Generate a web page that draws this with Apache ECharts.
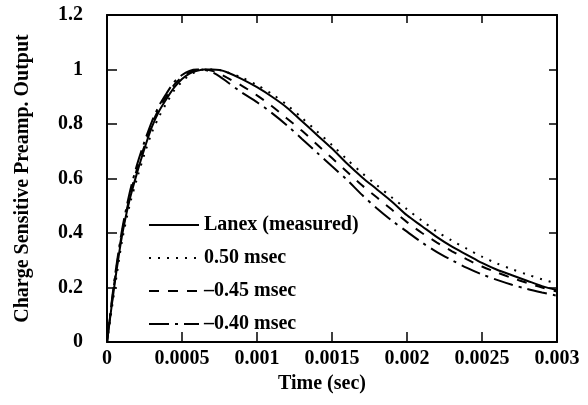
<!DOCTYPE html>
<html>
<head>
<meta charset="utf-8">
<script src="https://cdn.jsdelivr.net/npm/echarts@6/dist/echarts.min.js"></script>
<style>html,body{margin:0;padding:0;background:#fff;}#chart{width:588px;height:405px;}</style>
</head>
<body>
<div id="chart"></div>
<script>
// Time (sec)
var time = [0,0.00005,0.0001,0.00015,0.0002,0.00025,0.0003,0.00035,0.0004,0.00045,0.0005,0.00055,0.0006,0.00065,0.0007,0.00075,0.0008,0.0009,0.001,0.0011,0.0012,0.0013,0.0014,0.0015,0.0016,0.0017,0.0018,0.0019,0.002,0.0021,0.0022,0.0023,0.0024,0.0025,0.0026,0.0027,0.0028,0.0029,0.003];
var lanexMeasured = [0,0.21,0.39,0.52,0.62,0.71,0.79,0.85,0.895,0.935,0.965,0.985,0.995,1.0,1.0,0.998,0.99,0.965,0.935,0.90,0.86,0.81,0.76,0.71,0.655,0.605,0.56,0.515,0.465,0.425,0.385,0.35,0.32,0.29,0.265,0.245,0.225,0.205,0.19];
var sim050 = [0,0.19,0.37,0.50,0.60,0.69,0.77,0.83,0.88,0.925,0.955,0.98,0.993,1.0,1.0,0.998,0.99,0.97,0.943,0.91,0.87,0.822,0.773,0.723,0.67,0.62,0.575,0.53,0.487,0.445,0.405,0.372,0.342,0.313,0.288,0.267,0.248,0.23,0.215];
var simM045 = [0,0.22,0.40,0.53,0.635,0.72,0.80,0.86,0.905,0.945,0.972,0.99,0.998,1.0,0.995,0.985,0.97,0.94,0.905,0.865,0.82,0.775,0.725,0.675,0.625,0.575,0.53,0.485,0.44,0.40,0.365,0.333,0.303,0.277,0.255,0.235,0.217,0.2,0.185];
var simM040 = [0,0.23,0.41,0.545,0.65,0.735,0.81,0.87,0.915,0.955,0.98,0.995,1.0,0.998,0.99,0.975,0.955,0.915,0.88,0.84,0.795,0.745,0.695,0.645,0.595,0.54,0.49,0.445,0.405,0.365,0.33,0.30,0.272,0.248,0.228,0.21,0.195,0.182,0.17];
var seriesNames = ['Lanex (measured)', '0.50 msec', '\u20130.45 msec', '\u20130.40 msec'];
var xTickLabels = ['0','0.0005','0.001','0.0015','0.002','0.0025','0.003'];
var yTickLabels = ['0','0.2','0.4','0.6','0.8','1','1.2'];

function pairs(ys){ return time.map(function(t,i){ return [t, ys[i]]; }); }

var FONT = 'Liberation Serif';
var chart = echarts.init(document.getElementById('chart'), null, {renderer:'canvas'});
var axisLine = {show:true, onZero:false, lineStyle:{color:'#000', width:2}};
var dashes = ['solid', [2,7], [10,9], [20,6,3,6]];
var seriesData = [lanexMeasured, sim050, simM045, simM040];
var series = seriesData.map(function(d, i){
  return {
    name: seriesNames[i], type:'line', data: pairs(d), showSymbol:false, symbol:'none', smooth:0.3,
    lineStyle:{color:'#000', width:2, type:dashes[i]}, itemStyle:{color:'#000'}, z: 4 - i
  };
});
chart.setOption({
  animation:false,
  backgroundColor:'#fff',
  grid:{left:107, right:31, top:15, bottom:63},
  legend:{
    show:true, orient:'vertical', left:143, top:210, itemWidth:50, itemHeight:14, itemGap:13,
    itemStyle:{opacity:0},
    textStyle:{fontFamily:FONT, fontSize:20, fontWeight:'bold', color:'#000'},
    data: seriesNames
  },
  xAxis:[{
    type:'value', min:0, max:0.003, interval:0.0005, position:'bottom',
    name:'Time (sec)', nameLocation:'middle', nameGap:24,
    nameTextStyle:{fontFamily:FONT, fontSize:20, fontWeight:'bold', color:'#000', padding:[0,20,0,0]},
    axisLine:axisLine, axisTick:{show:true, inside:true, length:10, lineStyle:{color:'#000', width:1.5}},
    axisLabel:{fontFamily:FONT, fontSize:20, fontWeight:'bold', color:'#000', margin:7,
      formatter:function(v){ return xTickLabels[Math.round(v/0.0005)]; }},
    splitLine:{show:false}
  },{
    type:'value', min:0, max:0.003, interval:0.0005, position:'top',
    axisLine:axisLine, axisTick:{show:true, inside:true, length:8, lineStyle:{color:'#000', width:1.5}},
    axisLabel:{show:false}, splitLine:{show:false}
  }],
  yAxis:[{
    type:'value', min:0, max:1.2, interval:0.2, position:'left',
    name:'Charge Sensitive Preamp. Output', nameLocation:'middle', nameGap:74,
    nameTextStyle:{fontFamily:FONT, fontSize:20, fontWeight:'bold', color:'#000'},
    axisLine:axisLine, axisTick:{show:true, inside:true, length:10, lineStyle:{color:'#000', width:1.5}},
    axisLabel:{fontFamily:FONT, fontSize:20, fontWeight:'bold', color:'#000', margin:24,
      formatter:function(v){ return yTickLabels[Math.round(v/0.2)]; }},
    splitLine:{show:false}
  },{
    type:'value', min:0, max:1.2, interval:0.2, position:'right',
    axisLine:axisLine, axisTick:{show:true, inside:true, length:8, lineStyle:{color:'#000', width:1.5}},
    axisLabel:{show:false}, splitLine:{show:false}
  }],
  series: series
});
</script>
</body>
</html>
